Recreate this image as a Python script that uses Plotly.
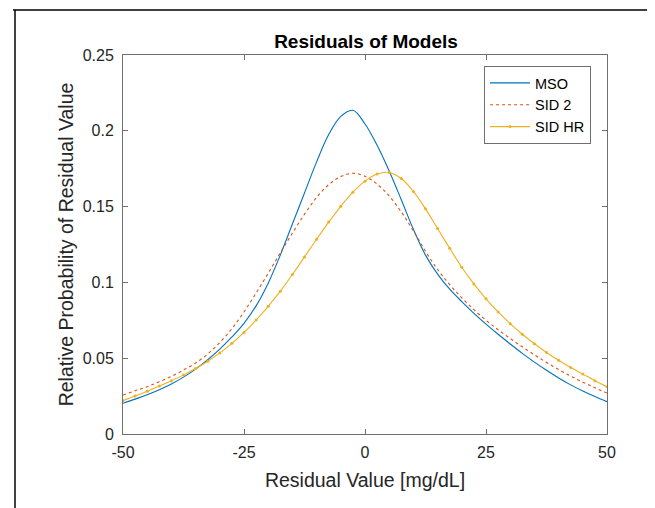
import plotly.graph_objects as go

residual_x = [-50, -47.5, -45, -42.5, -40, -37.5, -35, -32.5, -30, -27.5,
              -25, -22.5, -20, -17.5, -15, -12.5, -10, -7.5, -5, -2.5,
              0, 2.5, 5, 7.5, 10, 12.5, 15, 17.5, 20, 22.5,
              25, 27.5, 30, 32.5, 35, 37.5, 40, 42.5, 45, 47.5, 50]

mso = [0.0203, 0.0230, 0.0259, 0.0292, 0.0330, 0.0375, 0.0428, 0.0490, 0.0560, 0.0640,
       0.0730, 0.0845, 0.0995, 0.1180, 0.1385, 0.1590, 0.1795, 0.1975, 0.2095, 0.2135,
       0.2045, 0.1905, 0.1735, 0.1545, 0.1350, 0.1180, 0.1055, 0.0955, 0.0873, 0.0796,
       0.0725, 0.0658, 0.0594, 0.0532, 0.0474, 0.0420, 0.0370, 0.0324, 0.0284, 0.0247, 0.0213]

sid2 = [0.0257, 0.0285, 0.0312, 0.0345, 0.0380, 0.0422, 0.0468, 0.0528, 0.0603, 0.0695,
        0.0805, 0.0930, 0.1060, 0.1195, 0.1325, 0.1450, 0.1560, 0.1645, 0.1698, 0.1720,
        0.1700, 0.1648, 0.1570, 0.1465, 0.1340, 0.1205, 0.1085, 0.0985, 0.0898, 0.0820,
        0.0750, 0.0688, 0.0630, 0.0575, 0.0522, 0.0472, 0.0425, 0.0382, 0.0342, 0.0305, 0.0270]

sid_hr = [0.0220, 0.0250, 0.0282, 0.0316, 0.0352, 0.0390, 0.0432, 0.0480, 0.0535, 0.0598,
          0.0670, 0.0752, 0.0842, 0.0942, 0.1052, 0.1168, 0.1285, 0.1398, 0.1502, 0.1595,
          0.1668, 0.1715, 0.1725, 0.1685, 0.1600, 0.1485, 0.1355, 0.1225, 0.1100, 0.0990,
          0.0892, 0.0805, 0.0728, 0.0658, 0.0595, 0.0538, 0.0486, 0.0438, 0.0395, 0.0352, 0.0312]

x_ticks = [-50, -25, 0, 25, 50]
y_ticks = [0, 0.05, 0.1, 0.15, 0.2, 0.25]
y_tick_labels = ["0", "0.05", "0.1", "0.15", "0.2", "0.25"]

FONT = "Liberation Sans, Arial, Helvetica, sans-serif"
AXIS_COLOR = "#707070"
TEXT_COLOR = "#262626"

# the page body has an 8 px margin, so the figure is sized to fill the rest of the window
PAGE_OFFSET = 8
FIG_W, FIG_H = 655 - PAGE_OFFSET, 508 - PAGE_OFFSET
PLOT_L, PLOT_T, PLOT_R, PLOT_B = 123, 55, 607, 434  # plot area in window pixels
PW, PH = PLOT_R - PLOT_L, PLOT_B - PLOT_T

fig = go.Figure()
fig.add_trace(go.Scatter(x=residual_x, y=mso, name="MSO", mode="lines",
                         line=dict(color="#0072BD", width=1.1, shape="spline")))
fig.add_trace(go.Scatter(x=residual_x, y=sid2, name="SID 2", mode="lines",
                         line=dict(color="#D95319", width=1.1, dash="dot", shape="spline")))
fig.add_trace(go.Scatter(x=residual_x, y=sid_hr, name="SID HR", mode="lines+markers",
                         line=dict(color="#EDB120", width=1.1, shape="spline"),
                         marker=dict(color="#EDB120", size=3)))

axis_common = dict(showgrid=False, zeroline=False, showline=True, linecolor=AXIS_COLOR,
                   linewidth=1, mirror="ticks", ticks="inside", ticklen=5,
                   tickcolor=AXIS_COLOR, tickwidth=1,
                   tickfont=dict(family=FONT, size=16, color=TEXT_COLOR))

fig.update_xaxes(range=[-50, 50], tickvals=x_ticks, ticktext=[str(v) for v in x_ticks],
                 ticklabelstandoff=4,
                 title=dict(text="Residual Value [mg/dL]", standoff=13,
                            font=dict(family=FONT, size=19.5, color=TEXT_COLOR)),
                 **axis_common)
fig.update_yaxes(range=[0, 0.25], tickvals=y_ticks, ticktext=y_tick_labels,
                 ticklabelstandoff=5,
                 title=dict(text="Relative Probability of Residual Value", standoff=3,
                            font=dict(family=FONT, size=19.5, color=TEXT_COLOR)),
                 **axis_common)

fig.update_layout(
    width=FIG_W, height=FIG_H,
    margin=dict(l=PLOT_L - PAGE_OFFSET, r=FIG_W - (PLOT_R - PAGE_OFFSET),
                t=PLOT_T - PAGE_OFFSET, b=FIG_H - (PLOT_B - PAGE_OFFSET), pad=0),
    paper_bgcolor="white", plot_bgcolor="white",
    title=dict(text="<b>Residuals of Models</b>", x=(366 - PAGE_OFFSET) / FIG_W,
               xanchor="center", y=1 - (41 - PAGE_OFFSET) / FIG_H, yanchor="middle",
               font=dict(family=FONT, size=19, color="#000000")),
    legend=dict(x=0.967, y=0.971, xanchor="right", yanchor="top",
                bgcolor="white", bordercolor=AXIS_COLOR, borderwidth=1,
                font=dict(family=FONT, size=14.5, color="#000000"),
                tracegroupgap=0, itemwidth=40),
    showlegend=True,
    shapes=[
        dict(type="line", xref="paper", yref="paper",
             x0=(13 - PLOT_L) / PW, x1=(660 - PLOT_L) / PW,
             y0=(PLOT_B - 10) / PH, y1=(PLOT_B - 10) / PH,
             line=dict(color="black", width=1.5)),
        dict(type="line", xref="paper", yref="paper",
             x0=(15 - PLOT_L) / PW, x1=(15 - PLOT_L) / PW,
             y0=(PLOT_B - 10) / PH, y1=(PLOT_B - 515) / PH,
             line=dict(color="black", width=1.5)),
    ],
)

fig.write_html("out.html")
